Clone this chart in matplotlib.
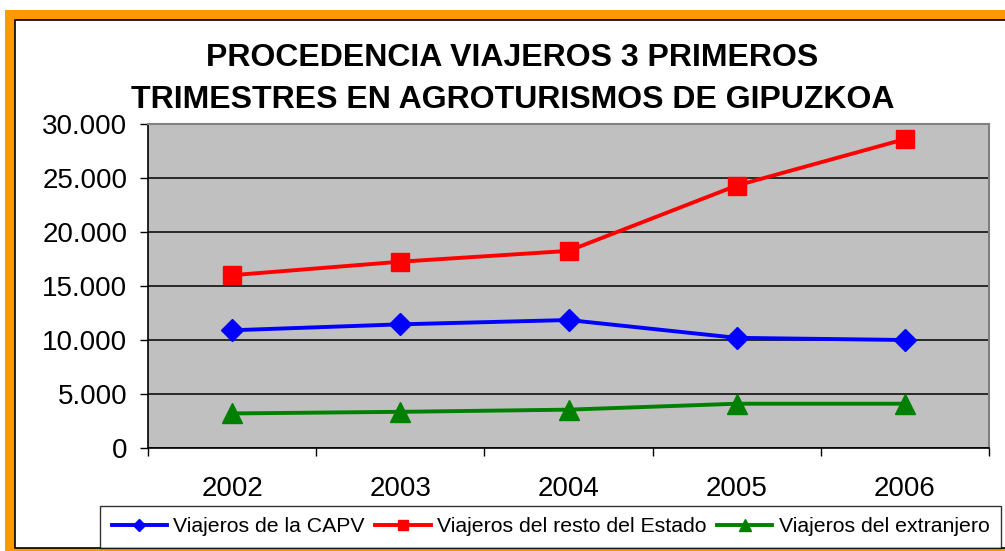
import matplotlib.pyplot as plt
from matplotlib.patches import Rectangle
from matplotlib.ticker import FuncFormatter, MultipleLocator

years = ["2002", "2003", "2004", "2005", "2006"]
capv = [10900, 11450, 11850, 10200, 10000]
resto_estado = [16000, 17250, 18250, 24300, 28600]
extranjero = [3200, 3350, 3550, 4100, 4100]

plt.rcParams['font.family'] = ['Liberation Sans', 'DejaVu Sans']

W, H = 1005, 551
fig = plt.figure(figsize=(W / 100, H / 100), dpi=100)

# orange frame round the chart
fig.patches.append(Rectangle((5 / W, 0), 1.2, (H - 10) / H, transform=fig.transFigure,
                             facecolor="#FF9900", edgecolor="none", zorder=-2))
fig.patches.append(Rectangle((15 / W, 3 / H), 1.2, (H - 23) / H, transform=fig.transFigure,
                             facecolor="white", edgecolor="black", linewidth=1.2, zorder=-1))

ax = fig.add_axes([148 / W, (H - 448) / H, (989 - 148) / W, (448 - 124) / H])
ax.set_facecolor("#C0C0C0")

x = range(len(years))
ax.plot(x, capv, color="blue", lw=2.8, marker="D", ms=11, label="Viajeros de la CAPV", zorder=3)
ax.plot(x, resto_estado, color="red", lw=2.8, marker="s", ms=13, label="Viajeros del resto del Estado", zorder=3)
ax.plot(x, extranjero, color="green", lw=2.8, marker="^", ms=14, label="Viajeros del extranjero", zorder=3)

ax.set_xlim(-0.5, len(years) - 0.5)
ax.set_ylim(0, 30000)
ax.yaxis.set_major_locator(MultipleLocator(5000))
ax.yaxis.set_major_formatter(FuncFormatter(lambda v, p: f"{int(v):,}".replace(",", ".")))
ax.grid(axis="y", color="black", lw=1.1, zorder=1)
ax.set_axisbelow(True)

ax.set_xticks([i - 0.5 for i in range(len(years) + 1)])
ax.set_xticklabels([])
ax.set_xticks(list(x), minor=True)
ax.set_xticklabels(years, minor=True)
ax.tick_params(axis="x", which="major", length=6, width=1, color="black")
ax.tick_params(axis="x", which="minor", length=0, pad=20.5, labelsize=20)
ax.tick_params(axis="y", length=6, width=1, pad=9, labelsize=20)

for side in ["top", "right"]:
    ax.spines[side].set_color("#808080")
    ax.spines[side].set_linewidth(1.5)
for side in ["left", "bottom"]:
    ax.spines[side].set_color("black")
    ax.spines[side].set_linewidth(1.2)

fig.text(512 / W, 1 - 58 / H, "PROCEDENCIA VIAJEROS 3 PRIMEROS", ha="center", va="center",
         fontsize=23, fontweight="bold")
fig.text(513 / W, 1 - 100 / H, "TRIMESTRES EN AGROTURISMOS DE GIPUZKOA", ha="center", va="center",
         fontsize=23, fontweight="bold")

leg = fig.legend(loc="lower left", bbox_to_anchor=(100 / W, 3 / H), ncol=3, fontsize=15.3,
                 frameon=True, fancybox=False, edgecolor="black", handlelength=2.6,
                 markerscale=0.6, columnspacing=0.5, handletextpad=0.3, borderpad=0.55,
                 borderaxespad=0)
leg.get_frame().set_linewidth(1.0)

fig.savefig("out.png", dpi=100)
